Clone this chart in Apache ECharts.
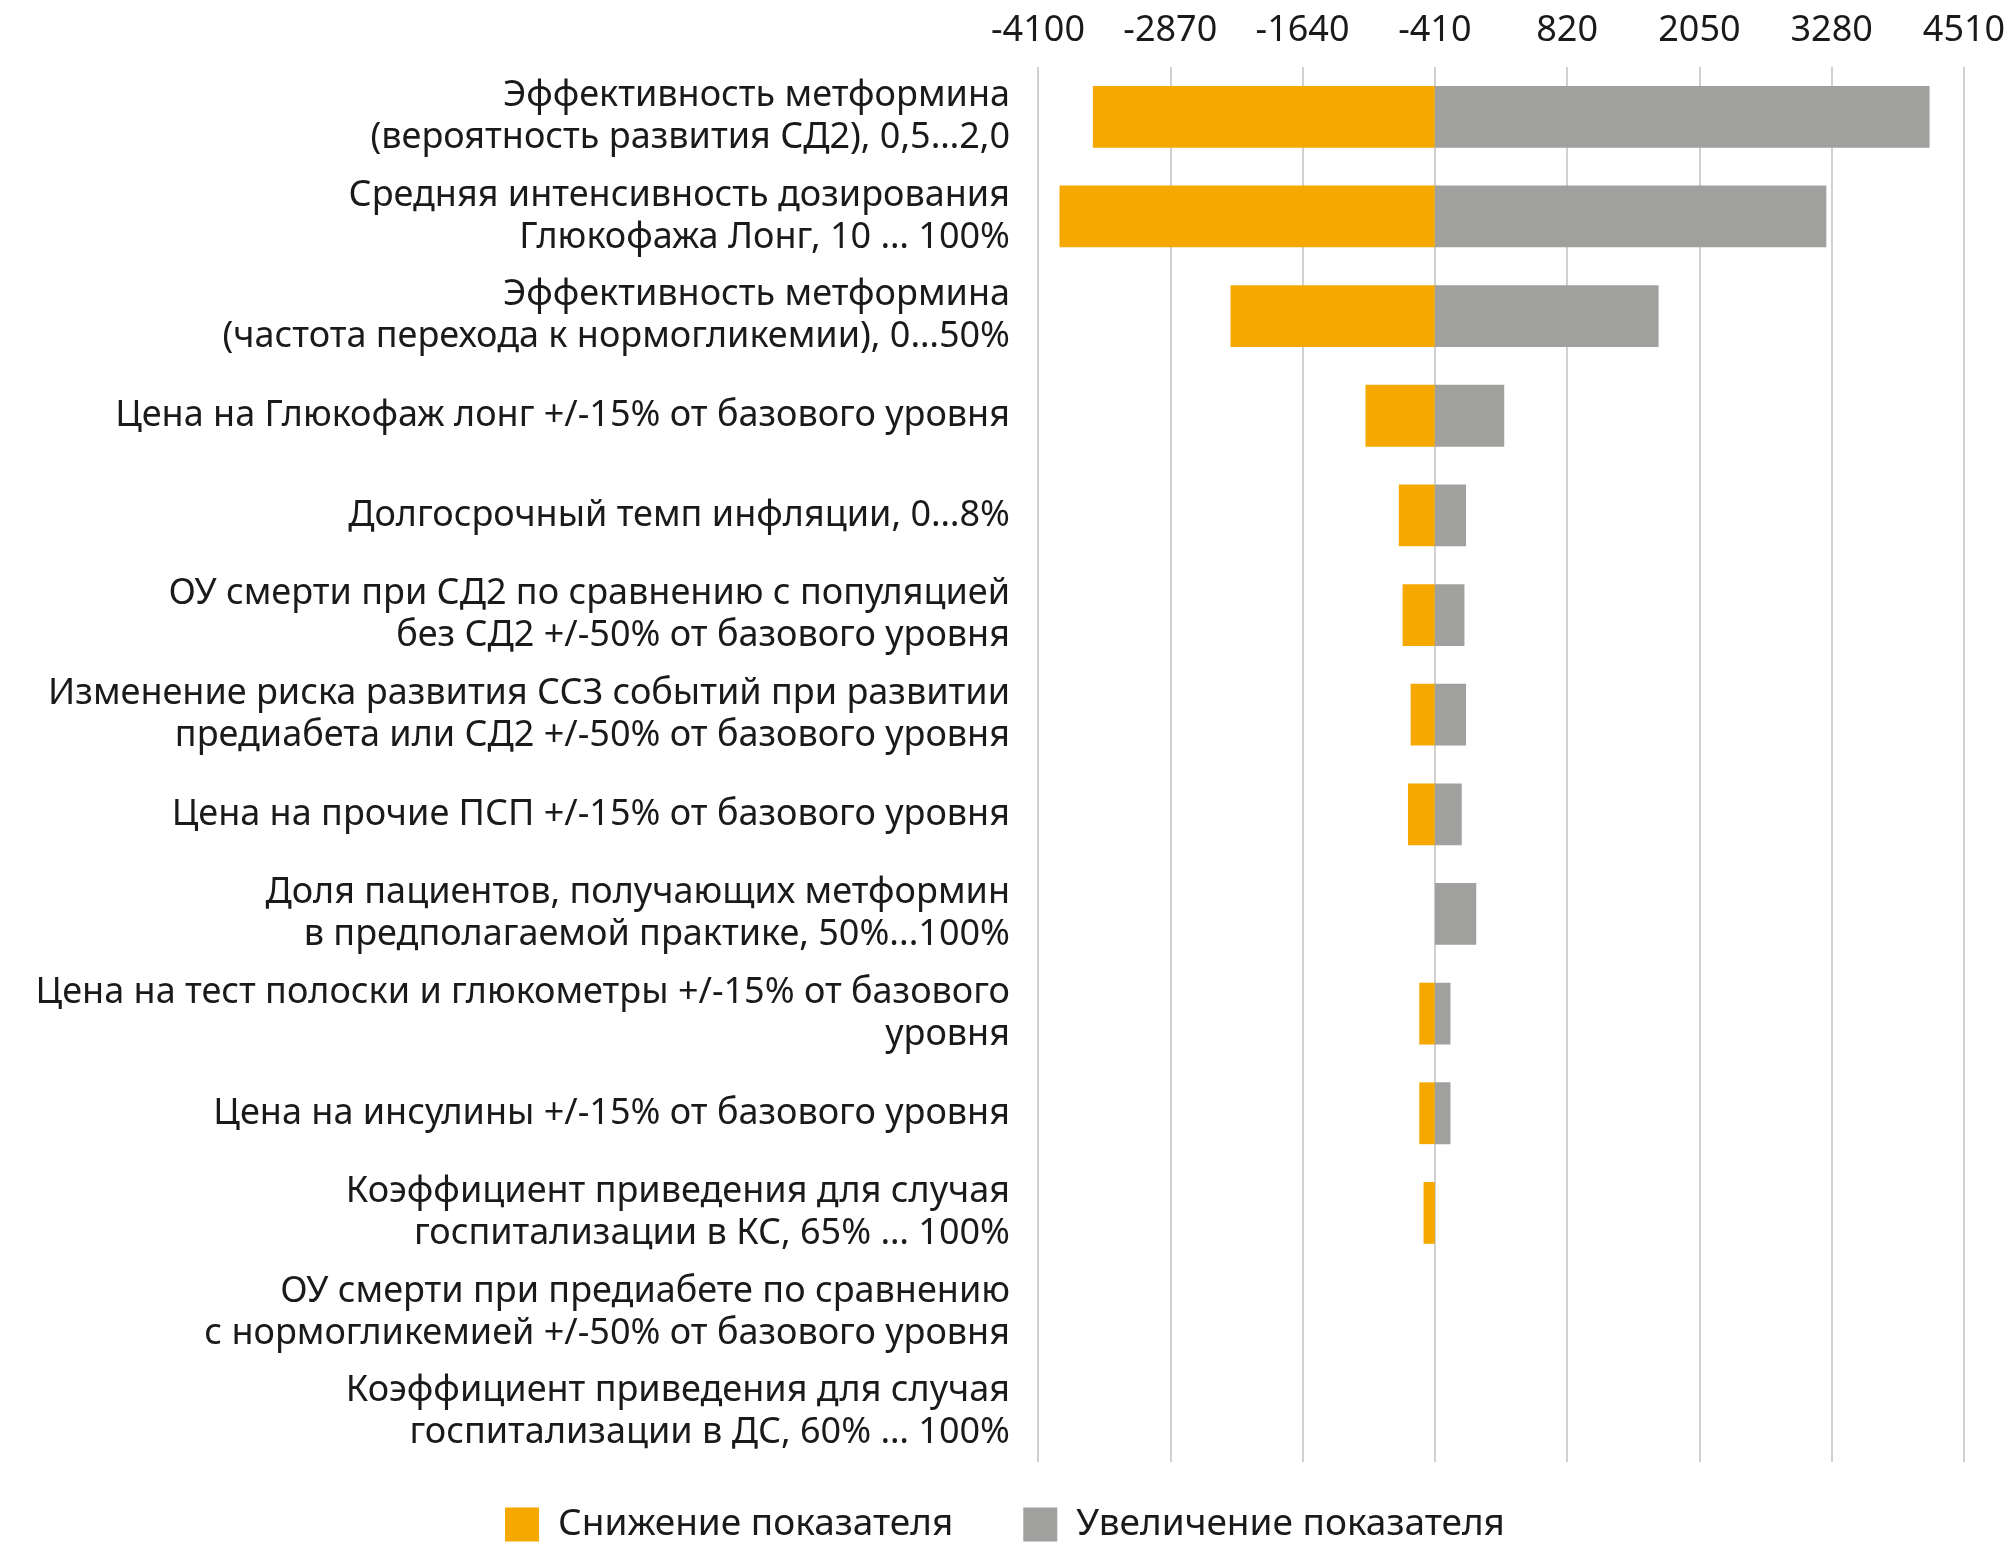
<!DOCTYPE html>
<html>
<head>
<meta charset="utf-8">
<script src="https://cdn.jsdelivr.net/npm/echarts@6/dist/echarts.min.js"></script>
<style>html,body{margin:0;padding:0;background:#fff}#chart{width:2010px;height:1554px}</style>
</head>
<body>
<div id="chart"></div>
<script>
const categories = [
  'Эффективность метформина\n(вероятность развития СД2), 0,5…2,0',
  'Средняя интенсивность дозирования\nГлюкофажа Лонг, 10 … 100%',
  'Эффективность метформина\n(частота перехода к нормогликемии), 0…50%',
  'Цена на Глюкофаж лонг +/-15% от базового уровня',
  'Долгосрочный темп инфляции, 0…8%',
  'ОУ смерти при СД2 по сравнению с популяцией\nбез СД2 +/-50% от базового уровня',
  'Изменение риска развития ССЗ событий при развитии\nпредиабета или СД2 +/-50% от базового уровня',
  'Цена на прочие ПСП +/-15% от базового уровня',
  'Доля пациентов, получающих метформин\nв предполагаемой практике, 50%...100%',
  'Цена на тест полоски и глюкометры +/-15% от базового\nуровня',
  'Цена на инсулины +/-15% от базового уровня',
  'Коэффициент приведения для случая\nгоспитализации в КС, 65% … 100%',
  'ОУ смерти при предиабете по сравнению\nс нормогликемией +/-50% от базового уровня',
  'Коэффициент приведения для случая\nгоспитализации в ДС, 60% … 100%'
];
const baseValue = -410;
// deviation from base (drawn to the left)
const decrease = [3180, 3490, 1900, 645, 335, 300, 225, 250, 0, 145, 145, 105, 0, 0];
// deviation from base (drawn to the right)
const increase = [4600, 3640, 2080, 645, 290, 275, 290, 250, 385, 145, 145, 0, 0, 0];
const tickMin = -4100, tickMax = 4510, tickStep = 1230;

const base = categories.map(() => baseValue);
const font = 'Noto Sans';

const chart = echarts.init(document.getElementById('chart'));
chart.setOption({
  animation: false,
  textStyle: { fontFamily: font },
  grid: { left: 1038, right: 46, top: 67, bottom: 92 },
  legend: {
    bottom: 6,
    left: 'center',
    itemWidth: 34, itemHeight: 34, itemGap: 70,
    icon: 'rect',
    data: ['Снижение показателя', 'Увеличение показателя'],
    textStyle: { fontSize: 37, color: '#1a1a1a', fontFamily: font, padding: [0, 0, 0, 14] }
  },
  xAxis: {
    type: 'value', position: 'top',
    min: tickMin, max: tickMax, interval: tickStep,
    axisLine: { show: false }, axisTick: { show: false },
    splitLine: { lineStyle: { color: '#d0d0d0', width: 2 } },
    axisLabel: { fontSize: 36, color: '#1a1a1a', margin: 18, formatter: v => String(v) }
  },
  yAxis: {
    type: 'category', inverse: true, data: categories,
    axisLine: { show: false }, axisTick: { show: false },
    axisLabel: { fontSize: 36, lineHeight: 42, color: '#1a1a1a', margin: 28, align: 'right' }
  },
  series: [
    { type: 'bar', stack: 'dn', stackStrategy: 'all', data: base, itemStyle: { color: 'transparent' }, barCategoryGap: '38%', silent: true },
    { name: 'Снижение показателя', type: 'bar', stack: 'dn', stackStrategy: 'all', data: decrease.map(v => -v), itemStyle: { color: '#F5A800' } },
    { type: 'bar', stack: 'up', stackStrategy: 'all', data: base, barGap: '-100%', itemStyle: { color: 'transparent' }, silent: true },
    { name: 'Увеличение показателя', type: 'bar', stack: 'up', stackStrategy: 'all', data: increase, itemStyle: { color: '#A0A09F' } }
  ]
});
</script>
</body>
</html>
